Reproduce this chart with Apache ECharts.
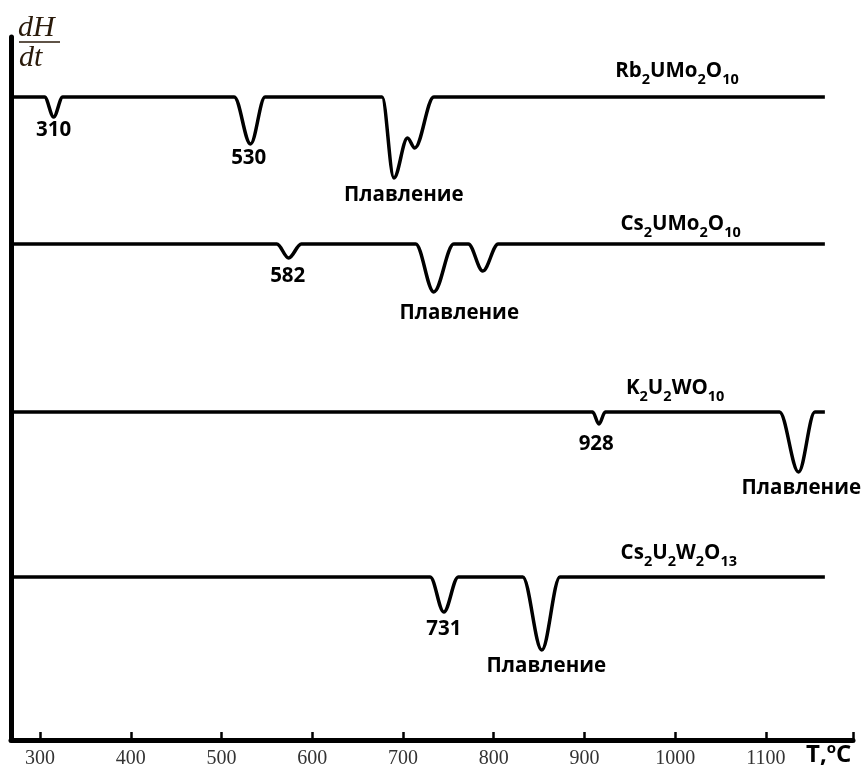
<!DOCTYPE html>
<html>
<head>
<meta charset="utf-8">
<script src="https://cdn.jsdelivr.net/npm/echarts@6/dist/echarts.min.js"></script>
<style>html,body{margin:0;padding:0;background:#fff}#c{width:862px;height:776px}</style>
</head>
<body>
<div id="c"></div>
<script>
// ---- data (temperature °C, dH/dt signal in arbitrary units; 0 = baseline, negative = endotherm) ----
const xTicks = [300, 400, 500, 600, 700, 800, 900, 1000, 1100];
const xMin = 268, xMax = 1196;

const rbT  = [268, 300, 305, 315, 325, 330, 508, 514, 532, 548, 554, 671, 677, 690, 705, 713, 734, 740, 1165];
const rbH  = [0,   0,   0,   -20, 0,   0,   0,   0,   -47, 0,   0,   0,   0,   -81, -41, -51, 0,   0,   0];

const csT  = [268, 556, 561, 574, 588, 593, 709, 714, 734, 756, 772, 788, 805, 810, 1165];
const csH  = [0,   0,   0,   -14, 0,   0,   0,   0,   -48, 0,   0,   -27, 0,   0,   0];

const kT   = [268, 905, 909, 916, 923, 927, 1110, 1115, 1136, 1154, 1160, 1165];
const kH   = [0,   0,   0,   -12, 0,   0,   0,    0,    -60,  0,    0,    0];

const cswT = [268, 725, 730, 745, 761, 766, 827, 832, 853, 873, 878, 1165];
const cswH = [0,   0,   0,   -35, 0,   0,   0,   0,   -73, 0,   0,   0];

// vertical offsets of the stacked traces (same units)
const offsets = [643, 496, 328, 163];
const yMax = 703;

// annotations: [T, signal (with offset), text]
const peakLabels = [
  [315, 610, '310'], [530, 582, '530'], [701, 545, 'Плавление'],
  [573, 464, '582'], [762, 427, 'Плавление'],
  [913, 296, '928'], [1139, 252, 'Плавление'],
  [745, 111, '731'], [858, 74, 'Плавление']
];
const formulaLabels = [
  [1002, 670, '{m|Rb}{s|2}{m|UMo}{s|2}{m|O}{s|10}'],
  [1006, 517, '{m|Cs}{s|2}{m|UMo}{s|2}{m|O}{s|10}'],
  [1000, 353, '{m|K}{s|2}{m|U}{s|2}{m|WO}{s|10}'],
  [1004, 188, '{m|Cs}{s|2}{m|U}{s|2}{m|W}{s|2}{m|O}{s|13}']
];

// ---- chart ----
const FONT = '"Open Sans", "Noto Sans", sans-serif';
const TXT = '#000';
function mk(T, H, off) { return T.map((t, i) => [t, H[i] + off]); }
const curves = [mk(rbT, rbH, offsets[0]), mk(csT, csH, offsets[1]), mk(kT, kH, offsets[2]), mk(cswT, cswH, offsets[3])];

const chart = echarts.init(document.getElementById('c'), null, {renderer: 'canvas'});
const series = curves.map(d => ({
  type: 'line', data: d, showSymbol: false, symbol: 'none', smooth: 0.35, smoothMonotone: 'x',
  lineStyle: {color: '#000', width: 3.5}, silent: true, animation: false, z: 3
}));
series.push({
  type: 'scatter', symbolSize: 0, silent: true, animation: false, z: 5,
  itemStyle: {color: '#fff', opacity: 0},
  data: peakLabels.map(p => ({value: [p[0], p[1]], name: p[2]})),
  label: {show: true, position: 'inside', formatter: p => p.name, color: TXT, opacity: 1,
    fontFamily: FONT, fontWeight: 'bold', fontSize: 20.5}
});
series.push({
  type: 'scatter', symbolSize: 0, silent: true, animation: false, z: 5,
  itemStyle: {color: '#fff', opacity: 0},
  data: formulaLabels.map(p => ({value: [p[0], p[1]], name: p[2]})),
  label: {show: true, position: 'inside', formatter: p => p.name, opacity: 1,
    rich: {
      m: {fontFamily: FONT, fontWeight: 'bold', fontSize: 20.5, color: TXT, lineHeight: 24, verticalAlign: 'bottom'},
      s: {fontFamily: FONT, fontWeight: 'bold', fontSize: 14.5, color: TXT, lineHeight: 24, verticalAlign: 'bottom', padding: [0, 0, -5, 0]}
    }}
});

chart.setOption({
  animation: false,
  grid: {left: 11, right: 9, top: 37, bottom: 36},
  xAxis: {
    type: 'value', min: xMin, max: xMax,
    axisLine: {show: true, onZero: false, lineStyle: {color: '#000', width: 5}},
    axisTick: {show: true, inside: true, length: 8, customValues: xTicks.concat([xMax]), lineStyle: {color: '#000', width: 2.5}},
    axisLabel: {show: true, customValues: xTicks, margin: 9, formatter: v => String(v),
      fontFamily: '"Liberation Serif", serif', fontSize: 20, color: '#333'},
    splitLine: {show: false}
  },
  yAxis: {
    type: 'value', min: 0, max: yMax,
    axisLine: {show: true, onZero: false, lineStyle: {color: '#000', width: 5}},
    axisTick: {show: false}, axisLabel: {show: false}, splitLine: {show: false}
  },
  series: series,
  graphic: [
    {type: 'text', left: 18, top: 13, style: {text: 'dH', font: 'italic 30px "Liberation Serif", serif', fill: '#2a1a0a'}},
    {type: 'line', shape: {x1: 19, y1: 42, x2: 60, y2: 42}, style: {stroke: '#2a1a0a', lineWidth: 1.5}},
    {type: 'text', left: 19, top: 43, style: {text: 'dt', font: 'italic 30px "Liberation Serif", serif', fill: '#2a1a0a'}},
    {type: 'text', left: 806, top: 741, style: {
      text: '{a|T,}{b|o}{a|C}',
      rich: {
        a: {font: 'bold 24px ' + FONT, fill: TXT, lineHeight: 28, verticalAlign: 'bottom'},
        b: {font: 'bold 15px ' + FONT, fill: TXT, lineHeight: 28, verticalAlign: 'bottom', padding: [0, 0, 11, 0]}
      }}}
  ]
});
</script>
</body>
</html>
